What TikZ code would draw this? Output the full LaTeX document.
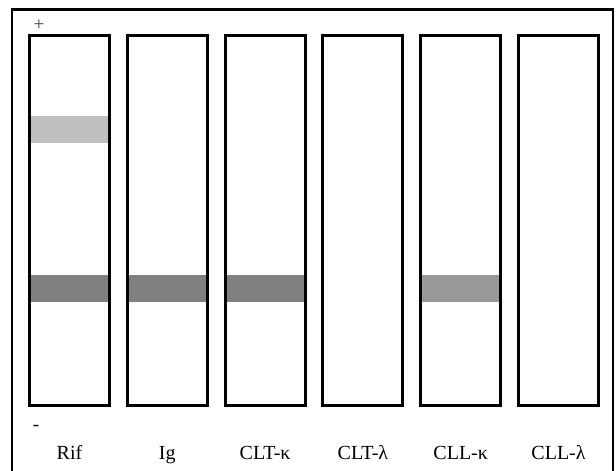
\documentclass[tikz,border=0pt]{standalone}
\usepackage{fontspec}
\setmainfont{Liberation Serif}
\begin{document}
\begin{tikzpicture}[x=1pt,y=-1pt,
  lanebox/.style={draw=black,line width=3pt,fill=none},
  bandlight/.style={fill=black!25,draw=none},
  banddark/.style={fill=black!50,draw=none},
  bandmid/.style={fill=black!40,draw=none},
  lanelabel/.style={font=\fontsize{20}{20}\selectfont,anchor=base,inner sep=0pt},
  polelabel/.style={font=\fontsize{19}{19}\selectfont,text=black!75,inner sep=0pt}]
\useasboundingbox (0,0) rectangle (616,471);
% outer frame (runs past the lower edge)
\draw[line width=2.5pt] (12,480) -- (12,9.5) -- (613,9.5) -- (613,480);
% lanes
\foreach \i/\name/\lab in {0/rif/Rif,1/ig/Ig,2/cltk/CLT-κ,3/cltl/CLT-λ,4/cllk/CLL-κ,5/clll/CLL-λ}{
  \pgfmathsetmacro{\xl}{29.5+97.8*\i}
  \pgfmathsetmacro{\xr}{\xl+80}
  \pgfmathsetmacro{\xc}{\xl+40}
  \coordinate (\name-tl) at (\xl,35.5);
  \coordinate (\name-br) at (\xr,405.5);
  \node[lanelabel] (\name-lab) at (\xc,459) {\lab};
}
% bands
\fill[bandlight] ([xshift=1.5pt]rif-tl |- 0,116) rectangle ([xshift=-1.5pt]rif-br |- 0,143);
\foreach \name in {rif,ig,cltk}{
  \fill[banddark] ([xshift=1.5pt]\name-tl |- 0,275) rectangle ([xshift=-1.5pt]\name-br |- 0,302);
}
\fill[bandmid] ([xshift=1.5pt]cllk-tl |- 0,275) rectangle ([xshift=-1.5pt]cllk-br |- 0,302);
% lane outlines
\foreach \name in {rif,ig,cltk,cltl,cllk,clll}{
  \draw[lanebox] (\name-tl) rectangle (\name-br);
}
% pole markers
\node[polelabel] (plus) at (39,25) {+};
\node[polelabel,text=black] (minus) at (36,428) {-};
\end{tikzpicture}
\end{document}
